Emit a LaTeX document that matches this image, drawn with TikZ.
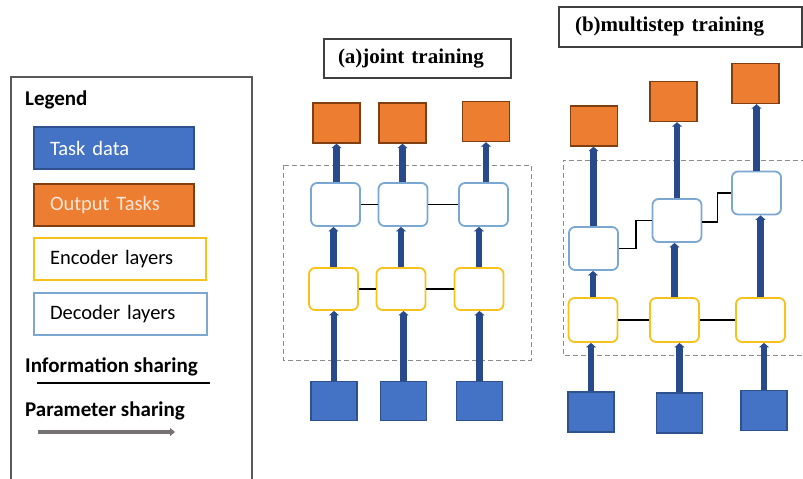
\documentclass[tikz,border=0pt]{standalone}
\usepackage{xcolor}
\usepackage{fontspec}
\setmainfont{Liberation Serif}
\setsansfont{Carlito}
\usepackage{tikz}
\usetikzlibrary{arrows.meta, positioning}

\definecolor{taskblue}{HTML}{4472C4}
\definecolor{taskedge}{HTML}{2F528F}
\definecolor{outorange}{HTML}{ED7D31}
\definecolor{outedge}{HTML}{7F3F10}
\definecolor{outtext}{HTML}{FBE5D6}
\definecolor{encyellow}{HTML}{F8C21C}
\definecolor{decblue}{HTML}{7BA7D3}
\definecolor{flownavy}{HTML}{284A8A}
\definecolor{paramgray}{HTML}{767171}

\begin{document}
\begin{tikzpicture}[x=1pt,y=-1pt,font=\sffamily\fontsize{20.5}{24}\selectfont]
	\tikzstyle{taskbox} = [draw=taskedge,fill=taskblue,line width=1.4pt,minimum width=46pt,minimum height=39pt,inner sep=0pt]
	\tikzstyle{outbox} = [draw=outedge,fill=outorange,line width=1.4pt,minimum width=47pt,minimum height=40pt,inner sep=0pt]
	\tikzstyle{encbox} = [draw=encyellow,fill=white,rounded corners=6pt,line width=1.8pt,minimum width=49pt,minimum height=42pt,inner sep=0pt]
	\tikzstyle{decbox} = [draw=decblue,fill=white,rounded corners=6pt,line width=1.8pt,minimum width=49pt,minimum height=43pt,inner sep=0pt]
	\tikzstyle{flow} = [draw=flownavy,line width=6.2pt,-{Triangle[width=10pt,length=4.5pt]}]
	\tikzstyle{share} = [draw=black,line width=1.3pt]
	\tikzstyle{titlebox} = [draw=black!75,line width=1.2pt,align=left,font=\rmfamily\bfseries\fontsize{21}{24}\selectfont]
	\tikzstyle{legitem} = [line width=1.4pt,minimum height=42pt,inner xsep=16pt,align=left]
	\tikzstyle{legtitle} = [anchor=west,inner xsep=0pt,font=\sffamily\bfseries\fontsize{21}{24}\selectfont]
	\tikzstyle{frame} = [draw=black!45,dashed,dash pattern=on 5pt off 3pt,line width=1pt]
	\useasboundingbox (0,0) rectangle (803,479);

	% legend
	\draw[black!65,line width=1.2pt] (11,482) -- (11,77) -- (252,77) -- (252,482);
	\node[legtitle] (leg) at (25,100) {Legend};
	\node[legitem,draw=taskedge,fill=taskblue,text=white,text width=128pt] (legtask) at (114,148) {Task data};
	\node[legitem,draw=outedge,fill=outorange,text=outtext,text width=128pt] (legout) at (114,205) {Output Tasks};
	\node[legitem,draw=encyellow,line width=1.8pt,text width=140pt] (legenc) at (120,259) {Encoder layers};
	\node[legitem,draw=decblue,line width=1.8pt,text width=141pt] (legdec) at (120.5,314) {Decoder layers};
	\node[legtitle] (leginfo) at (25,367) {Information sharing};
	\coordinate (infoa) at (37,383);
	\coordinate (infob) at (210,383);
	\draw[share] (infoa) -- (infob);
	\node[legtitle] (legparam) at (25,411) {Parameter sharing};
	\coordinate (parama) at (38,432);
	\coordinate (paramb) at (175,432);
	\draw[paramgray,line width=4pt,-{Triangle[width=8pt,length=5pt]}] (parama) -- (paramb);

	% (a) joint training
	\node[titlebox,inner xsep=14pt,text width=159pt,minimum height=39pt] (ta) at (417.5,58.5) {(a)joint training};
	\draw[frame] (283,165) rectangle (531,360);
	\node[outbox]	(ao1) at (336.5,123)	{};
	\node[outbox]	(ao2) at (402.5,123)	{};
	\node[outbox]	(ao3) at (486,121.5)	{};
	\node[decbox]	(ad1) at (335.5,204.5)	{};
	\node[decbox]	(ad2) at (403,204.5)	{};
	\node[decbox]	(ad3) at (483.5,204.5)	{};
	\node[encbox]	(ae1) at (333.5,289)	{};
	\node[encbox]	(ae2) at (401,289)	{};
	\node[encbox]	(ae3) at (479,289)	{};
	\node[taskbox]	(ai1) at (334,401)	{};
	\node[taskbox]	(ai2) at (403.5,401)	{};
	\node[taskbox]	(ai3) at (479.5,401)	{};
	\foreach \c in {1,2,3} {
		\draw[flow] (ai\c.north) -- (ai\c.north |- ae\c.south);
		\draw[flow] (ae\c.north) -- (ae\c.north |- ad\c.south);
		\draw[flow] (ao\c.south |- ad\c.north) -- (ao\c.south);
	}
	\draw[share] (ae1.east) -- (ae2.west);
	\draw[share] (ae2.east) -- (ae3.west);
	\draw[share] (ad1.east) -- (ad2.west);
	\draw[share] (ad2.east) -- (ad3.west);

	% (b) multistep training
	\node[titlebox,inner xsep=16pt,text width=211pt,minimum height=40pt] (tb) at (680.5,27) {(b)multistep training};
	\draw[frame] (806,160) -- (563,160) -- (563,355) -- (806,355);
	\node[outbox]	(bo1) at (594,126)	{};
	\node[outbox]	(bo2) at (673.5,101.5)	{};
	\node[outbox]	(bo3) at (755.5,83.5)	{};
	\node[decbox]	(bd1) at (593.5,248.5)	{};
	\node[decbox]	(bd2) at (677,220.5)	{};
	\node[decbox]	(bd3) at (756.5,193)	{};
	\node[encbox,minimum height=44pt]	(be1) at (593,320)	{};
	\node[encbox,minimum height=44pt]	(be2) at (674.5,320)	{};
	\node[encbox,minimum height=44pt]	(be3) at (760.5,320)	{};
	\node[taskbox,minimum height=40pt]	(bi1) at (591,412)	{};
	\node[taskbox,minimum height=40pt]	(bi2) at (679.5,413)	{};
	\node[taskbox,minimum height=40pt]	(bi3) at (764,410.5)	{};
	\foreach \c in {1,2,3} {
		\draw[flow] (bi\c.north) -- (bi\c.north |- be\c.south);
		\draw[flow] (be\c.north) -- (be\c.north |- bd\c.south);
		\draw[flow] (bd\c.north) -- (bd\c.north |- bo\c.south);
	}
	\draw[share] (be1.east) -- (be2.west);
	\draw[share] (be2.east) -- (be3.west);
	\draw[share] (bd1.east) -- ++(17,0) |- (bd2.west);
	\draw[share] ([yshift=-1.5pt]bd2.east) -- ++(15,0) |- (bd3.west);
\end{tikzpicture}
\end{document}
